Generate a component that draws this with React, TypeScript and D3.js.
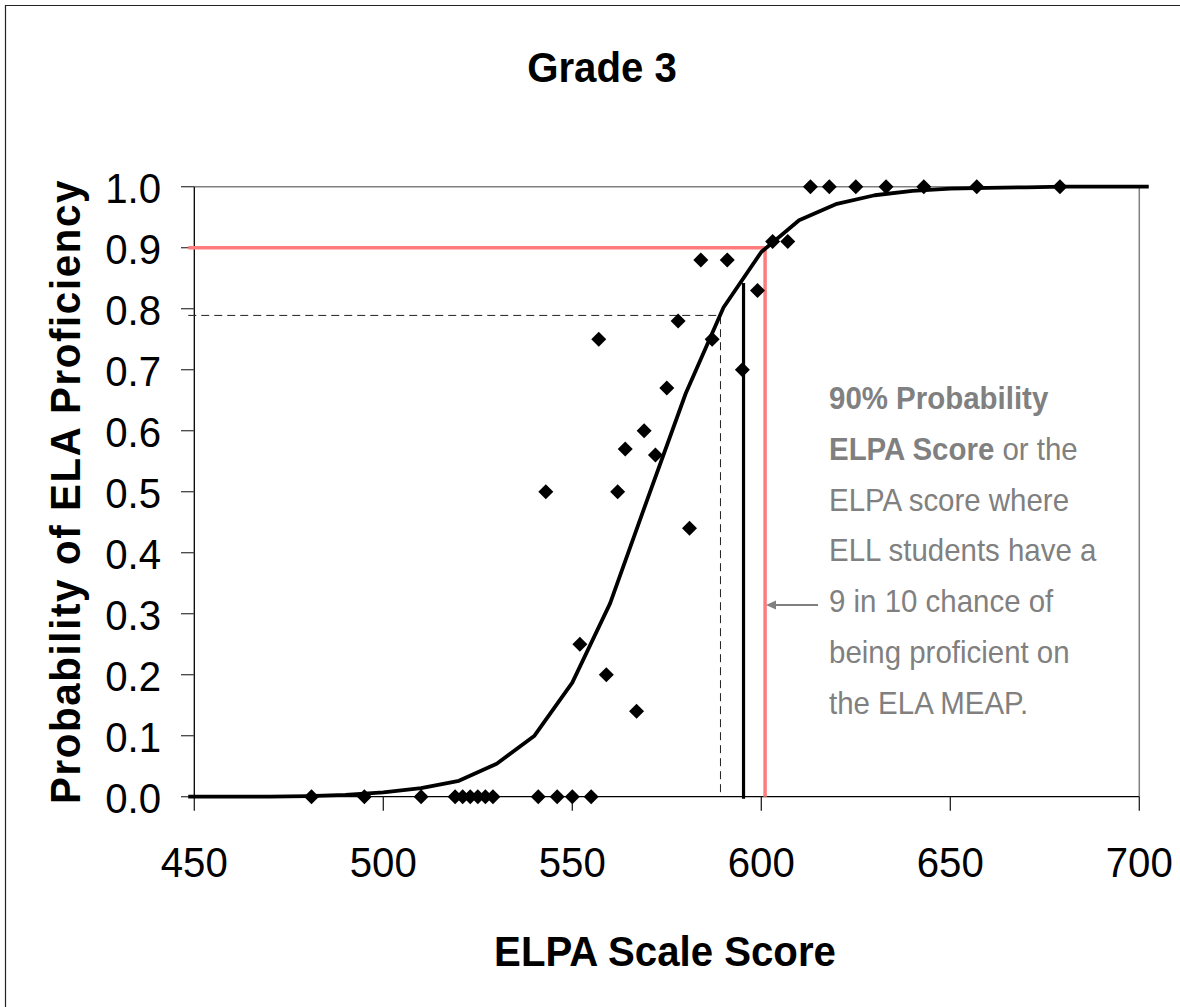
import React from "react";
import * as d3 from "d3";

// ---- data ----
const titleText = "Grade 3";
const xTitle = "ELPA Scale Score";
const yTitle = "Probability of ELA Proficiency";
const xTicks = [450, 500, 550, 600, 650, 700];
const yTicks = [0, 0.1, 0.2, 0.3, 0.4, 0.5, 0.6, 0.7, 0.8, 0.9, 1.0];

// fitted probability curve
const curveX = [448.4, 460, 470, 480, 490, 500, 510, 520, 530, 540, 550, 560, 570, 580, 590, 600, 610, 620, 630, 640, 650, 660, 670, 680, 690, 702.5];
const curveY = [0, 0, 0, 0.001, 0.003, 0.007, 0.014, 0.026, 0.054, 0.1, 0.187, 0.317, 0.49, 0.661, 0.802, 0.893, 0.945, 0.972, 0.986, 0.993, 0.997, 0.998, 0.999, 1, 1, 1];

// observed proportions
const obsX = [481, 495, 510, 519, 521, 523, 525, 527, 529, 541, 546, 550, 555,
  543, 552, 557, 559, 562, 564, 567, 569, 572, 575, 578, 581, 587, 584, 591, 595, 599, 603, 607,
  613, 618, 625, 633, 643, 657, 679];
const obsY = [0, 0, 0, 0, 0, 0, 0, 0, 0, 0, 0, 0, 0,
  0.5, 0.25, 0.75, 0.2, 0.5, 0.57, 0.14, 0.6, 0.56, 0.67, 0.78, 0.44, 0.75, 0.88, 0.88, 0.7, 0.83, 0.91, 0.91,
  1, 1, 1, 1, 1, 1, 1];

// reference markers
const score90 = 601;
const prob90 = 0.9;
const cutScore = 595.3;
const cutProb = 0.842;
const dashScore = 589.2;
const dashProb = 0.789;
const refStart = 448.4;

const noteLines: { bold: string; normal: string }[] = [
  { bold: "90% Probability", normal: "" },
  { bold: "ELPA Score", normal: " or the" },
  { bold: "", normal: "ELPA score where" },
  { bold: "", normal: "ELL students have a" },
  { bold: "", normal: "9 in 10 chance of" },
  { bold: "", normal: "being proficient on" },
  { bold: "", normal: "the ELA MEAP." },
];

const W = 1180;
const H = 1007;
const FONT = "'Liberation Sans', Arial, Helvetica, sans-serif";
const SX = 0.935;

export default function App() {
  const x = d3.scaleLinear().domain([450, 700]).range([194.3, 1139.3]);
  const y = d3.scaleLinear().domain([0, 1]).range([796.7, 186.7]);
  const line = d3
    .line<number>()
    .x((_, i) => x(curveX[i]))
    .y((d) => y(d));
  const curvePath = line(curveY) || "";
  const r = 7.5;
  const diamond = (cx: number, cy: number) =>
    `M${cx},${cy - r}L${cx + r},${cy}L${cx},${cy + r}L${cx - r},${cy}Z`;

  const condensed = (tx: number, ty: number, children: React.ReactNode, extra = "") => (
    <g transform={`translate(${tx},${ty}) ${extra} scale(${SX},1)`}>{children}</g>
  );

  return (
    <svg
      width={W}
      height={H}
      style={{ position: "absolute", left: 0, top: 0, background: "#fff" }}
      fontFamily={FONT}
    >
      <rect x={0} y={0} width={W} height={H} fill="#fff" />
      {/* outer frame (left & top visible) */}
      <path d={`M5.5,${H + 5}V5.5H${W + 5}`} fill="none" stroke="#222" strokeWidth={1.2} />

      {/* title */}
      {condensed(602, 82, (
        <text x={0} y={0} textAnchor="middle" fontSize={43} fontWeight="bold" fill="#000">
          {titleText}
        </text>
      ))}

      {/* plot area border top/right */}
      <path
        d={`M${x(450)},${y(1)}H${x(700)}V${y(0)}`}
        fill="none"
        stroke="#808080"
        strokeWidth={1.5}
      />
      {/* axes */}
      <line x1={x(450)} x2={x(450)} y1={y(1)} y2={y(0)} stroke="#000" strokeWidth={1.3} />
      <line x1={x(450)} x2={x(700)} y1={y(0)} y2={y(0)} stroke="#000" strokeWidth={1.3} />
      {yTicks.map((t) => (
        <g key={"yt" + t}>
          <line x1={181} x2={x(450)} y1={y(t)} y2={y(t)} stroke="#444" strokeWidth={1.3} />
          {condensed(161, y(t) + 16, (
            <text x={0} y={0} textAnchor="end" fontSize={43} fill="#000">
              {d3.format(".1f")(t)}
            </text>
          ))}
        </g>
      ))}
      {xTicks.map((t) => (
        <g key={"xt" + t}>
          <line x1={x(t)} x2={x(t)} y1={y(0)} y2={y(0) + 14} stroke="#222" strokeWidth={1.3} />
          {condensed(x(t), 877, (
            <text x={0} y={0} textAnchor="middle" fontSize={43} fill="#000">
              {t}
            </text>
          ))}
        </g>
      ))}

      {/* axis titles */}
      {condensed(665, 966, (
        <text x={0} y={0} textAnchor="middle" fontSize={43} fontWeight="bold" fill="#000">
          {xTitle}
        </text>
      ))}
      <g transform={`translate(80,${(175 + 808) / 2}) rotate(-90) scale(${SX},1)`}>
        <text x={0} y={0} textAnchor="middle" fontSize={43} fontWeight="bold" fill="#000" letterSpacing={1.8}>
          {yTitle}
        </text>
      </g>

      {/* dashed reference */}
      <path
        d={`M${x(refStart)},${y(dashProb)}H${x(dashScore)}V${y(0)}`}
        fill="none"
        stroke="#222"
        strokeWidth={1}
        strokeDasharray="8,5"
      />
      {/* red 90% reference */}
      <path
        d={`M${x(refStart)},${y(prob90)}H${x(score90)}V${y(0)}`}
        fill="none"
        stroke="#ff7c7c"
        strokeWidth={3.5}
      />
      {/* black cut line */}
      <line
        x1={x(cutScore)}
        x2={x(cutScore)}
        y1={y(cutProb)}
        y2={y(0) + 2}
        stroke="#000"
        strokeWidth={3.2}
      />

      {/* curve */}
      <path d={curvePath} fill="none" stroke="#000" strokeWidth={3.8} strokeLinejoin="round" />

      {/* observed points */}
      {obsX.map((v, i) => (
        <path key={"p" + i} d={diamond(x(v), y(obsY[i]))} fill="#000" />
      ))}

      {/* arrow */}
      <line x1={818} x2={770} y1={605} y2={605} stroke="#808080" strokeWidth={2} />
      <path d="M766,605L776,600.5L776,609.5Z" fill="#808080" />

      {/* annotation */}
      {noteLines.map((ln, i) => (
        <g key={"n" + i} transform={`translate(829,${409 + i * 50.8}) scale(${SX},1)`}>
          <text x={0} y={0} fontSize={31.5} fill="#808080">
            {ln.bold && <tspan fontWeight="bold">{ln.bold}</tspan>}
            {ln.normal && <tspan>{ln.normal}</tspan>}
          </text>
        </g>
      ))}
    </svg>
  );
}
